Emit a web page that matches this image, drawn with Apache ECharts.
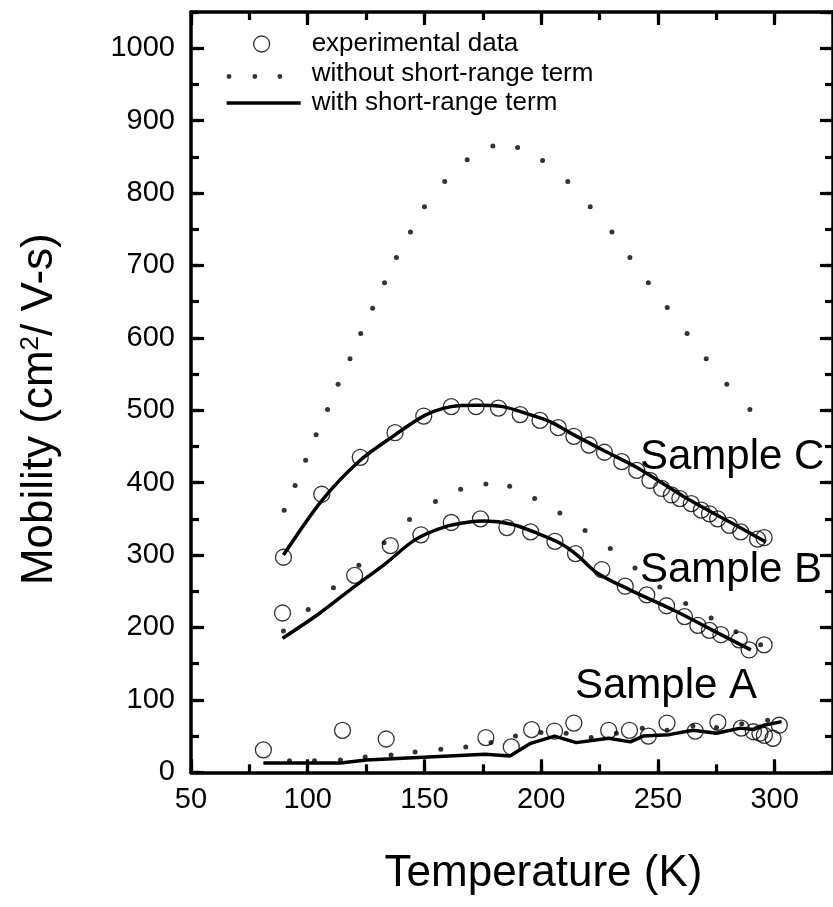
<!DOCTYPE html>
<html><head><meta charset="utf-8">
<script src="https://cdn.jsdelivr.net/npm/echarts@6/dist/echarts.min.js"></script>
<style>html,body{margin:0;padding:0;background:#fff}#c{width:833px;height:907px}</style>
</head><body><div id="c"></div>
<script>
// ---- Sample C ----
const expC_T  = [89.6,106,122.5,137.4,149.7,161.5,172.1,181.7,191,199.5,207.3,214,220.5,227.1,234.5,240.9,246.6,251.6,255.8,259.4,264.3,268.6,272.1,275.6,280.6,285.5,292.7,295.5];
const expC_mu = [297,384,435,469,492,505,505,503,494,486,476,464,452,442,429,417,403,392,383,378,371,362,357,350,341,332,322,324];
const noSrC_T  = [89.9,94.6,99.1,103.6,108.5,113,118.1,122.7,127.8,132.9,138,144,150,158.7,168.3,179.3,189.9,200.6,211.4,221,230.3,238,245.9,254,262.5,270.7,279.5,289.4];
const noSrC_mu = [362,396,431,466,501,536,571,606,641,676,711,746,781,816,846,865,863,845,816,781,746,711,676,642,606,571,536,501];
const srC_T  = [89.6,106.2,122.5,137.4,150.2,161.5,172.8,183.5,194.1,204,214,227,241,263.6,280.6,296.3];
const srC_mu = [300,376,431,466,493,505,507,505,495,484,466,444,421,376,346,318];
// ---- Sample B ----
const expB_T  = [89.2,120.1,135.4,148.5,161.5,174,185.3,195.5,205.9,214.7,226,236,245.2,253.7,261.4,267.1,272.1,277,284.8,289.1,295.5];
const expB_mu = [220,272,313,328,345,350,338,332,319,302,280,257,245,230,215,203,196,190,183,169,176];
const noSrB_T  = [89.6,100.2,111,121.9,132.7,143.6,154.7,165.5,176.3,186.5,197.2,208,218.8,229.6,240.2,250.8,261.9,272.8,283.4,294];
const noSrB_mu = [195,225,255,286,317,349,374,391,398,395,378,358,334,309,282,256,233,213,194,176];
const srB_T  = [89.2,104.8,119,133.2,145.9,158.7,170,175.7,187,198.4,208.3,215.4,224.1,238,257.9,273.5,289.8];
const srB_mu = [185,219,254,288,321,339,346,347,343,330,316,300,275,252,222,196,169];
// ---- Sample A ----
const expA_T  = [81,114.9,133.6,176.3,187.2,195.9,205.7,214,228.9,237.8,245.9,253.9,266,275.7,285.7,290.9,293.7,295.6,299.3,302];
const expA_mu = [31,58,46,48,35,59,57,68,58,58,50,68,57,69,61,56,54,51,47,65];
const noSrA_T  = [92.2,102.9,114,124.6,135.7,146,157,167.7,178.5,189,199.9,210.7,221.4,232.2,243.3,253.9,265,275.1,285.9,297];
const noSrA_mu = [16,16,17,21,24,28,32,35,41,50,55,54,48,54,61,58,64,62,67,72];
const srA_T  = [81,114,125.1,176,186.6,195.5,205.7,215,228.9,238.2,243.7,254.8,265,275.1,285.3,290.9,295.5,303];
const srA_mu = [13,13,17,25,22.5,40,50,41,47,42,50,52,58,54,61,59,65,70];
// ---- axes / labels ----
const xTicks = {min:50, max:325, major:50, minor:25};
const yTicks = {min:0, max:1050, major:100, minor:50};
const xTitle = 'Temperature (K)';
const legendNames = ['experimental data','without short-range term','with short-range term'];
const sampleLabels = ['Sample C','Sample B','Sample A'];

const FONT = '"Liberation Sans", Arial, Helvetica, sans-serif';
const zip = (a,b) => a.map((v,i)=>[v,b[i]]);

const AX_W = 3.5;
function xAxisDef(pos, major, labels) {
  return {
    type:'value', position:pos, min:xTicks.min, max:xTicks.max,
    interval: major ? xTicks.major : xTicks.minor,
    axisLine:{show:major, onZero:false, lineStyle:{color:'#000', width:AX_W}},
    axisTick:{show:true, inside:true, length: major?13:8, lineStyle:{color:'#000', width:3.2}},
    axisLabel:{show:labels, color:'#000', fontSize:29, fontFamily:FONT, margin:13, showMaxLabel:false,
      formatter:v=>String(v)},
    splitLine:{show:false}
  };
}
function yAxisDef(pos, major, labels) {
  return {
    type:'value', position:pos, min:yTicks.min, max:yTicks.max,
    interval: major ? yTicks.major : yTicks.minor,
    axisLine:{show:major, onZero:false, lineStyle:{color:'#000', width:AX_W}},
    axisTick:{show:true, inside:true, length: major?13:8, lineStyle:{color:'#000', width:3.2}},
    axisLabel:{show:labels, color:'#000', fontSize:29, fontFamily:FONT, margin:16, showMaxLabel:false,
      formatter:v=>String(v)},
    splitLine:{show:false}
  };
}
const xAxes = [xAxisDef('bottom',true,true), xAxisDef('bottom',false,false), xAxisDef('top',true,false), xAxisDef('top',false,false)];
xAxes[0].name = xTitle;
xAxes[0].nameLocation = 'middle';
xAxes[0].nameGap = 80;
xAxes[0].nameTextStyle = {fontSize:44, fontFamily:FONT, color:'#000', padding:[0,0,0,63]};
const yAxes = [yAxisDef('left',true,true), yAxisDef('left',false,false), yAxisDef('right',true,false), yAxisDef('right',false,false)];
yAxes[0].name = '{a|Mobility (cm}{b|2}{a|/ V-s)}';
yAxes[0].nameLocation = 'middle';
yAxes[0].nameGap = 129;
yAxes[0].nameTextStyle = {fontSize:44, fontFamily:FONT, color:'#000', padding:[0,34,0,0],
  rich:{a:{fontSize:44, fontFamily:FONT, color:'#000'}, b:{fontSize:26, fontFamily:FONT, color:'#000', verticalAlign:'top'}}};

function expSeries(T, mu) {
  return {name:legendNames[0], type:'scatter', data:zip(T,mu), symbol:'circle', symbolSize:16,
    itemStyle:{color:'rgba(0,0,0,0)', borderColor:'#000', borderWidth:1.3}, z:3};
}
function dotSeries(T, mu) {
  return {name:legendNames[1], type:'scatter', data:zip(T,mu), symbol:'circle', symbolSize:5,
    itemStyle:{color:'#000'}, z:4};
}
function lineSeries(T, mu, smooth) {
  return {name:legendNames[2], type:'line', data:zip(T,mu), symbol:'none', showSymbol:false, smooth:smooth,
    lineStyle:{color:'#000', width:3.5}, itemStyle:{color:'#000'}, z:2};
}

const CIRCLE_ICON = 'path://M0,0M74,16M27,8a8,8 0 1,0 16,0a8,8 0 1,0 -16,0Z';
const DOT_ICON = 'path://M0,0M74,16M0,11a2.4,2.4 0 1,0 4.8,0a2.4,2.4 0 1,0 -4.8,0M25.8,11a2.4,2.4 0 1,0 4.8,0a2.4,2.4 0 1,0 -4.8,0M50.8,11a2.4,2.4 0 1,0 4.8,0a2.4,2.4 0 1,0 -4.8,0';
const LINE_ICON = 'path://M0,0M74,16M0,6.25L74,6.25L74,9.75L0,9.75Z';

const option = {
  animation:false,
  backgroundColor:'#fff',
  grid:{left:191, top:12, width:647, height:760.3, containLabel:false},
  xAxis:xAxes,
  yAxis:yAxes,
  legend:{
    orient:'vertical', left:221, top:26, itemWidth:74, itemHeight:16, itemGap:3.5,
    selectedMode:false,
    textStyle:{fontFamily:FONT, fontSize:26, color:'#000', padding:[0,0,0,6]},
    data:[
      {name:legendNames[0], icon:CIRCLE_ICON, itemStyle:{color:'rgba(0,0,0,0)', borderColor:'#000', borderWidth:1.3}},
      {name:legendNames[1], icon:DOT_ICON, itemStyle:{color:'#000', borderWidth:0}},
      {name:legendNames[2], icon:LINE_ICON, itemStyle:{color:'#000', borderWidth:0}}
    ]
  },
  graphic:[
    {type:'text', x:640, y:457, style:{text:sampleLabels[0], fontSize:42, fontFamily:FONT, fill:'#000', verticalAlign:'middle', textVerticalAlign:'middle'}},
    {type:'text', x:640, y:570, style:{text:sampleLabels[1], fontSize:42, fontFamily:FONT, fill:'#000', verticalAlign:'middle', textVerticalAlign:'middle'}},
    {type:'text', x:575, y:686, style:{text:sampleLabels[2], fontSize:42, fontFamily:FONT, fill:'#000', verticalAlign:'middle', textVerticalAlign:'middle'}}
  ],
  series:[
    lineSeries(srC_T, srC_mu, 0.3),
    lineSeries(srB_T, srB_mu, 0.3),
    lineSeries(srA_T, srA_mu, false),
    dotSeries(noSrC_T, noSrC_mu),
    dotSeries(noSrB_T, noSrB_mu),
    dotSeries(noSrA_T, noSrA_mu),
    expSeries(expC_T, expC_mu),
    expSeries(expB_T, expB_mu),
    expSeries(expA_T, expA_mu)
  ]
};
const chart = echarts.init(document.getElementById('c'), null, {renderer:'canvas'});
chart.setOption(option);
</script></body></html>
